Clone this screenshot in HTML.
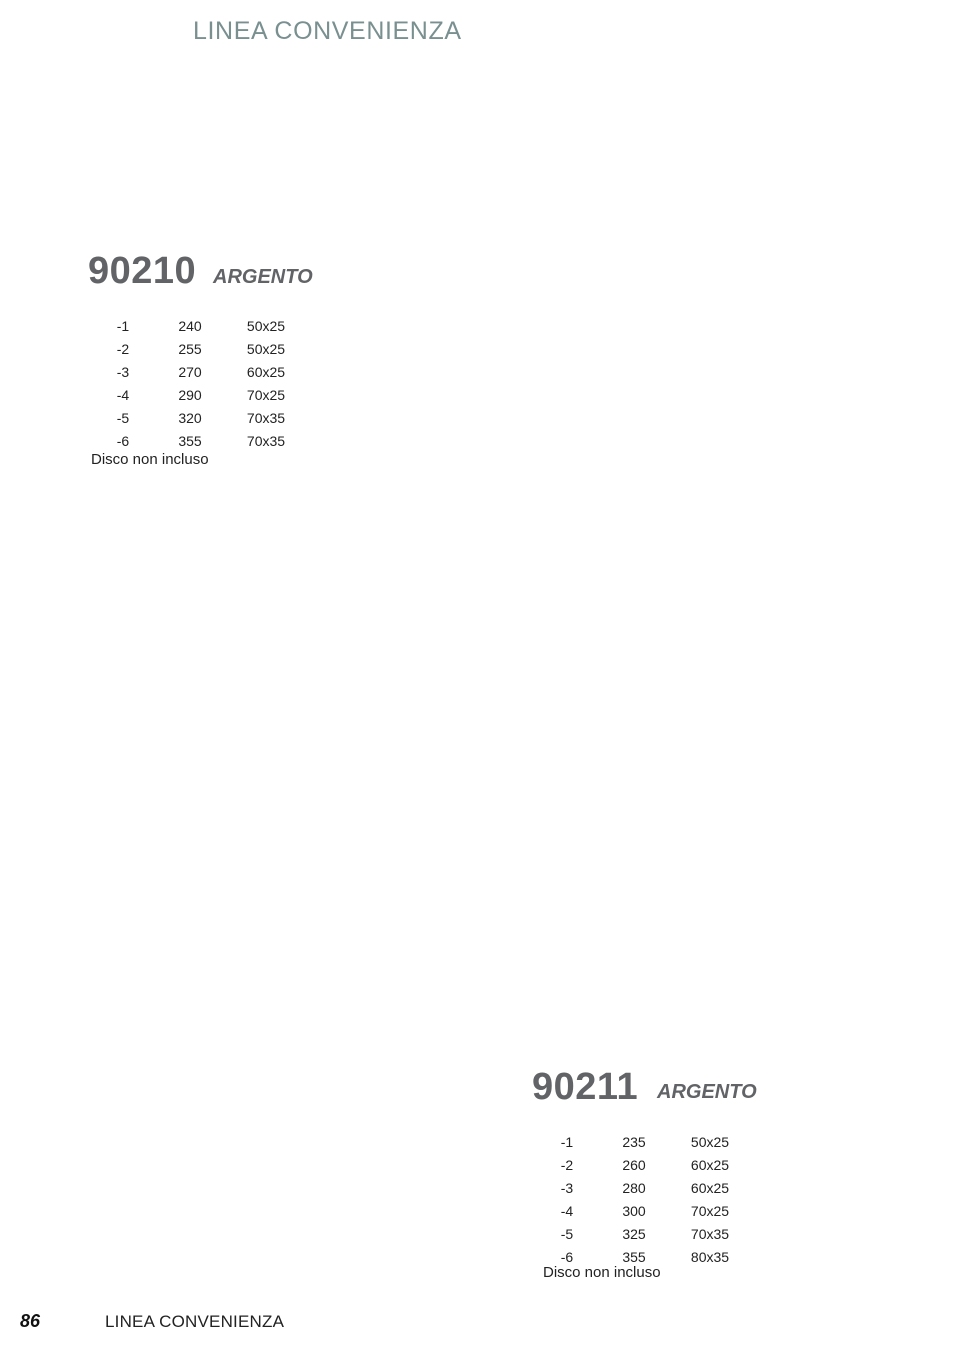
<!DOCTYPE html>
<html><head><meta charset="utf-8"><style>
body{margin:0;width:970px;height:1350px;background:#fff;position:relative;font-family:"Liberation Sans",sans-serif;overflow:hidden}
.a{position:absolute;white-space:nowrap}
.h{color:#7a9090;font-size:25px;left:193px;top:17px;letter-spacing:0.6px}
.num{font-weight:bold;color:#616366;font-size:38px;letter-spacing:0.5px}
.arg{font-weight:bold;font-style:italic;color:#616366;font-size:20px}
.c{position:absolute;font-size:14px;color:#222;text-align:center;width:60px}
.d{font-size:15px;color:#222}
</style></head><body>
<div class="a h">LINEA CONVENIENZA</div>

<div class="a num" style="left:88px;top:250px">90210</div>
<div class="a arg" style="left:213px;top:266px">ARGENTO</div>
<div class="a d" style="left:91px;top:451px">Disco non incluso</div>

<div class="a num" style="left:532px;top:1066px">90211</div>
<div class="a arg" style="left:657px;top:1081px">ARGENTO</div>
<div class="a d" style="left:543px;top:1264px">Disco non incluso</div>

<div class="a" style="left:20px;top:1311px;font-weight:bold;font-style:italic;font-size:18px;color:#111">86</div>
<div class="a" style="left:105px;top:1312px;font-size:17px;color:#222;letter-spacing:0.2px">LINEA CONVENIENZA</div>

<script>
function tbl(x,y,rows){var s='';rows.forEach(function(r,i){var t=y+i*23;
s+='<div class="c" style="left:'+(x-30)+'px;top:'+t+'px">'+r[0]+'</div>';
s+='<div class="c" style="left:'+(x+37)+'px;top:'+t+'px">'+r[1]+'</div>';
s+='<div class="c" style="left:'+(x+113)+'px;top:'+t+'px">'+r[2]+'</div>';});
document.body.insertAdjacentHTML('beforeend',s);}
tbl(123,318,[["-1","240","50x25"],["-2","255","50x25"],["-3","270","60x25"],["-4","290","70x25"],["-5","320","70x35"],["-6","355","70x35"]]);
tbl(567,1134,[["-1","235","50x25"],["-2","260","60x25"],["-3","280","60x25"],["-4","300","70x25"],["-5","325","70x35"],["-6","355","80x35"]]);
</script>
</body></html>
